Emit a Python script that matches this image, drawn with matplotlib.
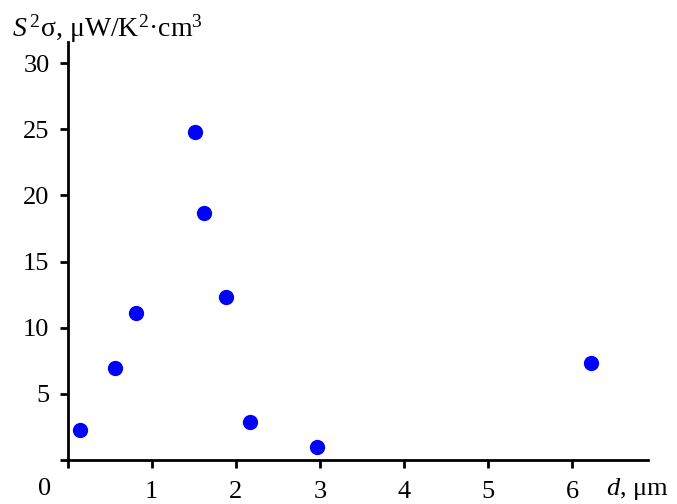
import numpy as np
import matplotlib
matplotlib.use("Agg")
import matplotlib.pyplot as plt

plt.rcParams['font.family'] = ['Liberation Serif', 'DejaVu Serif']
plt.rcParams['mathtext.fontset'] = 'custom'
plt.rcParams['mathtext.rm'] = 'Liberation Serif'
plt.rcParams['mathtext.it'] = 'Liberation Serif:italic'

# film thickness (um) and power factor (uW/K^2 cm^3)
thickness = [0.15, 0.56, 0.81, 1.51, 1.62, 1.88, 2.17, 2.97, 6.22]
power_factor = [2.3, 6.95, 11.1, 24.8, 18.65, 12.3, 2.85, 0.95, 7.3]
x_ticks = [0, 1, 2, 3, 4, 5, 6]
y_ticks = [0, 5, 10, 15, 20, 25, 30]

fig = plt.figure(figsize=(6.77, 5.04), dpi=100)
ax = fig.add_axes([67.5/677, 1-460/504, (648-67.5)/677, (460-42)/504])

ax.plot(thickness, power_factor, 'o', color='#0000ff', markersize=11, markeredgewidth=0)

ax.set_xlim(0, 6.9)
ax.set_ylim(0, 31.6)
ax.spines['top'].set_visible(False)
ax.spines['right'].set_visible(False)
for s in ('left', 'bottom'):
    ax.spines[s].set_linewidth(2)
    ax.spines[s].set_clip_on(False)

ax.set_xticks(x_ticks)
ax.set_xticklabels([''] + [str(t) for t in x_ticks[1:]])
ax.set_yticks(y_ticks)
ax.set_yticklabels([''] + [str(t) for t in y_ticks[1:]])
ax.tick_params(direction='out', length=6, width=2, labelsize=19)
ax.tick_params(axis='x', pad=9)
ax.tick_params(axis='y', pad=7)

fig.text(45/677, 1-489/504, '0', fontsize=19, ha='center', va='center')
fig.text(606/677, 1-489/504, r'$d$, μm', fontsize=19, ha='left', va='center')
fig.text(12/677, 1-29/504, r'$S^{\,2}$σ, μW/K$^{2}$·cm$^{3}$', fontsize=20,
         ha='left', va='center')

fig.savefig('out.png', dpi=100)
